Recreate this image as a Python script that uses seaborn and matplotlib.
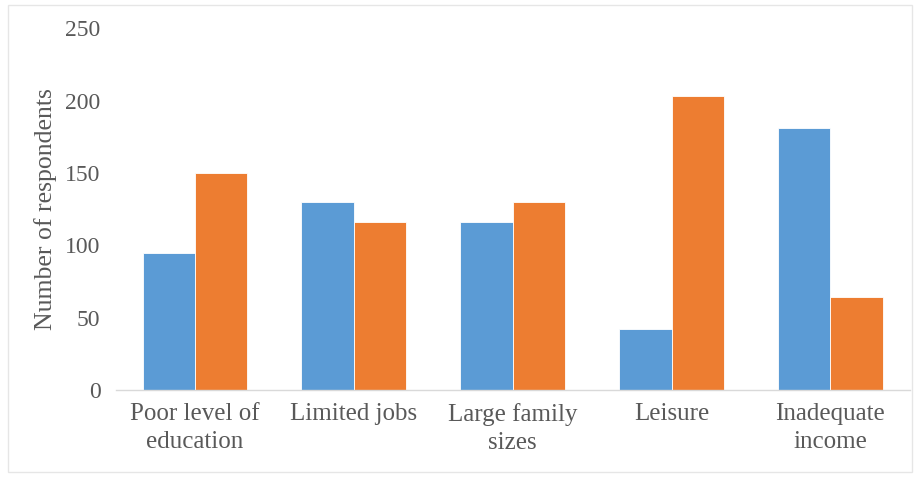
import pandas as pd
import matplotlib.pyplot as plt
import seaborn as sns
from matplotlib.patches import Rectangle

# Datos
categorias = ['Poor level of\neducation', 'Limited jobs', 'Large family\nsizes', 'Leisure', 'Inadequate\nincome']
serie_azul = [95, 130, 116, 42, 181]
serie_naranja = [150, 116, 130, 203, 64]
series = ['Series 1', 'Series 2']
colores = ['#5B9BD5', '#ED7D31']

df = pd.DataFrame({
    'categoria': categorias * 2,
    'serie': [series[0]] * len(categorias) + [series[1]] * len(categorias),
    'valor': serie_azul + serie_naranja,
})

sns.set_style('white')
plt.rcParams['font.family'] = ['Liberation Serif', 'DejaVu Serif']

fig = plt.figure(figsize=(9.18, 4.78), dpi=100)
ax = fig.add_axes([0.126, 0.184, 0.865, 0.757])

sns.barplot(data=df, x='categoria', y='valor', hue='serie', palette=colores,
            saturation=1, width=0.66, legend=False, ax=ax,
            edgecolor='white', linewidth=0.6)

ax.set_ylim(0, 250)
ax.set_yticks([0, 50, 100, 150, 200, 250])
ax.set_xlabel('')
ax.set_ylabel('Number of respondents', fontsize=18.5, color='#595959', labelpad=6)
ax.tick_params(axis='y', labelsize=17, labelcolor='#595959', length=0, pad=11)
ax.tick_params(axis='x', labelsize=18, labelcolor='#595959', length=0, pad=9)
for lbl in ax.get_xticklabels():
    lbl.set_linespacing(1.4)
for s in ['top', 'right', 'left']:
    ax.spines[s].set_visible(False)
ax.spines['bottom'].set_color('#d9d9d9')
ax.spines['bottom'].set_linewidth(1.0)

# Borde del area del grafico
fig.patches.append(Rectangle((0.009, 0.012), 0.985, 0.978, transform=fig.transFigure,
                             fill=False, edgecolor='#e6e6e6', linewidth=1.0))

plt.savefig('out.png', dpi=100)
